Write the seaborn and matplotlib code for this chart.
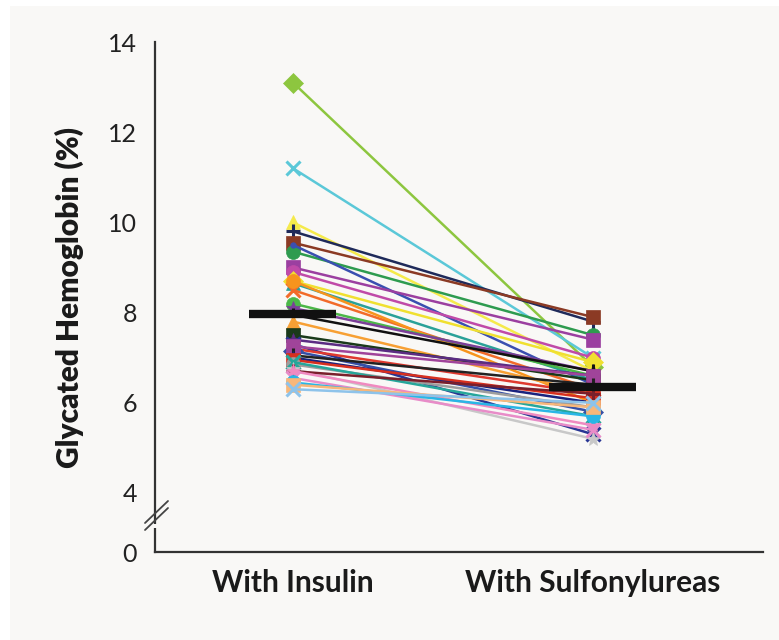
import matplotlib
matplotlib.use("Agg")
import matplotlib.pyplot as plt
import seaborn as sns
import pandas as pd
from matplotlib.patches import Rectangle
from matplotlib.lines import Line2D

# ---- data ----
conditions = ["With Insulin", "With Sulfonylureas"]
insulin = [13.1, 11.2, 10.0, 9.8, 9.55, 9.35, 9.5, 9.0, 8.9, 8.7, 8.65, 8.5,
           8.7, 8.2, 8.1, 7.95, 7.8, 7.5, 7.4, 7.3, 7.2, 7.15, 7.25, 7.05,
           7.0, 6.95, 6.85, 6.9, 6.75, 6.7, 6.7, 6.55, 6.45, 6.4, 6.3]
sulfonylureas = [6.8, 7.0, 6.7, 7.8, 7.9, 7.5, 6.4, 7.4, 7.0, 6.9, 6.5, 6.3,
                 6.0, 6.6, 6.7, 6.7, 6.2, 6.5, 6.6, 5.3, 6.2, 5.8, 6.6, 6.4,
                 6.0, 6.1, 5.9, 5.7, 5.2, 6.2, 5.5, 5.4, 5.7, 5.9, 6.0]
mean_values = [7.96, 6.35]
colors = ["#8dc63f", "#5bc8d8", "#f5ea4a", "#1f2a5a", "#8b3a24", "#2e9b4f",
          "#3a4fb0", "#9b3fa0", "#c04aa8", "#f0e030", "#2aa198", "#f26b2a",
          "#f7941d", "#4cb848", "#7b3f98", "#111111", "#f7a034", "#1a3a1a",
          "#5b2c83", "#283593", "#e03a2f", "#3550a8", "#a0449a", "#222222",
          "#1a237e", "#d7301f", "#9e9e9e", "#26a69a", "#c8c8c8", "#7a1f2b",
          "#f08ac0", "#e88cc8", "#29b6e6", "#f7b77a", "#8ec3ea"]
markers = ["D", "x", "^", "+", "s", "o", ".", "s", "o", "D", "^", "x",
           "o", "o", "*", "+", "^", "s", "*", "x", "o", "D", "s", "+",
           "^", "s", "o", "x", "*", "+", "*", "x", "o", "s", "x"]
y_ticks = [4, 6, 8, 10, 12, 14]
zero_pos = 2.69  # where the "0" tick sits below the axis break

BG = "#f9f8f6"

rows = []
for i, (a, b) in enumerate(zip(insulin, sulfonylureas)):
    rows.append({"patient": i, "pos": 0, "value": a})
    rows.append({"patient": i, "pos": 1, "value": b})
df = pd.DataFrame(rows)

sns.set_style("white")
plt.rcParams["font.family"] = ["Lato", "DejaVu Sans"]

fig = plt.figure(figsize=(7.79, 6.40), dpi=100)
fig.patch.set_facecolor("white")
fig.patches.append(Rectangle((10 / 779, 0), 1, 1 - 6 / 640, transform=fig.transFigure,
                             facecolor=BG, edgecolor="none", zorder=-10))
ax = fig.add_axes([155 / 779, 1 - 552 / 640, (763 - 155) / 779, (552 - 42) / 640])
ax.set_facecolor(BG)

for pid, sub in df.groupby("patient"):
    m = markers[pid]
    filled = m not in ("x", "+")
    sns.lineplot(data=sub, x="pos", y="value", ax=ax, color=colors[pid],
                 marker=m, markersize=10 if m != "." else 8, linewidth=1.8,
                 markeredgewidth=2.2 if not filled else 0.5,
                 markeredgecolor=colors[pid], legend=False, zorder=3)

# mean bars
half = 0.145
for xi, mv in enumerate(mean_values):
    ax.plot([xi - half, xi + half], [mv, mv], color="#111111", linewidth=6,
            solid_capstyle="butt", zorder=10)

ax.set_xlim(-0.46, 1.567)
ax.set_ylim(zero_pos, 14)
ax.set_xticks([0, 1])
ax.set_xticklabels(conditions, fontsize=21.5, fontweight="bold", color="#1a1a1a")
ax.set_yticks([zero_pos] + y_ticks)
ax.set_yticklabels(["0"] + [str(t) for t in y_ticks], fontsize=18, color="#222222")
ax.tick_params(axis="y", direction="out", length=10, width=1.3, color="#555555", pad=3)
ax.tick_params(axis="x", length=0, pad=12)
ax.set_xlabel("")
ax.set_ylabel("Glycated Hemoglobin (%)", fontsize=21.5, fontweight="heavy",
              color="#1a1a1a", labelpad=17)
for s in ("top", "right"):
    ax.spines[s].set_visible(False)
for s in ("left", "bottom"):
    ax.spines[s].set_color("#333333")
    ax.spines[s].set_linewidth(1.6)

# axis break marks
tr = ax.transAxes
def ax_frac(px_x, px_y):
    return ((px_x - 155) / (763 - 155), (552 - px_y) / (552 - 42))
x0, y0 = ax_frac(145, 530)
x1, y1 = ax_frac(168, 508)
dy = 7 / 510
ax.add_patch(Rectangle((ax_frac(150, 0)[0], y0 + 0.004), 12 / 608, dy * 0.6,
                       transform=tr, facecolor=BG, edgecolor="none",
                       clip_on=False, zorder=20))
for off in (0, dy):
    ax.add_line(Line2D([x0, x1], [y0 + off, y1 + off], transform=tr, color="#444444",
                       linewidth=1.3, clip_on=False, zorder=21))

fig.savefig("out.png", dpi=100, facecolor=fig.get_facecolor())
